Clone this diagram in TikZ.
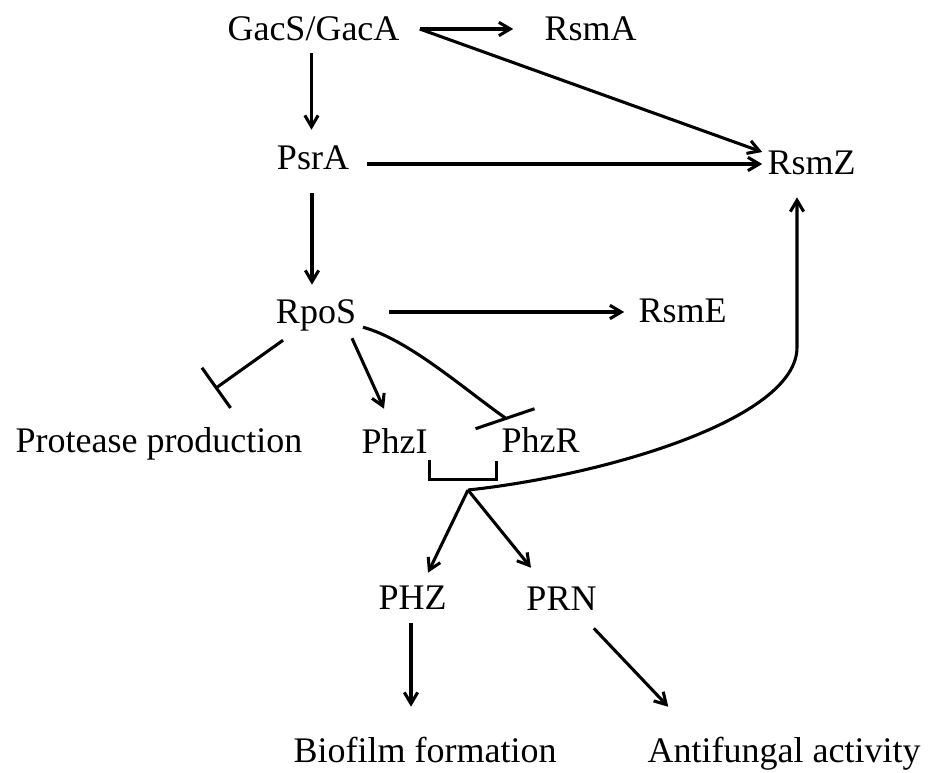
\documentclass[tikz,border=0pt]{standalone}
\usepackage{fontspec}
\setmainfont{Liberation Serif}
\usetikzlibrary{arrows.meta,calc}

\begin{document}
\begin{tikzpicture}[x=0.75pt,y=0.75pt,>={Straight Barb[length=8.5pt,width=10pt]},
font=\fontsize{27}{30}\selectfont,
gene/.style={inner sep=0pt,text height=18pt,text depth=0pt},
arr/.style={->,line width=2.3pt},
inh/.style={-{Bar[width=#1]},line width=2.3pt}]
\useasboundingbox (0,0) rectangle (930,-773);
\node[gene] (gac) at (313.5,-29) {GacS/GacA};
\node[gene] (rsmA) at (590.5,-29) {RsmA};
\node[gene] (psr) at (313,-158) {PsrA};
\node[gene] (rsmZ) at (811.5,-163) {RsmZ};
\node[gene] (rpo) at (316,-311) {RpoS};
\node[gene] (rsmE) at (682.5,-310) {RsmE};
\node[gene] (prot) at (159,-440) {Protease production};
\node[gene] (phzI) at (394.5,-441) {PhzI};
\node[gene] (phzR) at (540.5,-440) {PhzR};
\node[gene] (phz) at (412.5,-597) {PHZ};
\node[gene] (prn) at (561.5,-598) {PRN};
\node[gene] (bio) at (425,-750) {Biofilm formation};
\node[gene] (anti) at (784,-750) {Antifungal activity};
\coordinate (hub) at (468,-490);

% GacS/GacA
\draw[arr] ($(gac.east)+(20,0)$) -- ($(rsmA.west)+(-31,0)$);
\draw[arr] ($(gac.east)+(20,0)$) -- ($(rsmZ.west)+(-5,11)$);
\draw[arr] ($(gac.south)+(-2,-12)$) -- ($(gac.south |- psr.north)+(-2,16)$);
% PsrA
\draw[arr] ($(psr.east)+(18,-6)$) -- ($(rsmZ.west)+(-5,-1)$);
\draw[arr] ($(psr.south)+(-1,-23)$) -- ($(psr.south |- rpo.north)+(-1,14)$);
% RpoS
\draw[arr] ($(rpo.east)+(33,-1)$) -- ($(rsmE.west)+(-14,-2)$);
\draw[inh=37pt] ($(rpo.south)+(-33,-17)$) -- ($(prot.north)+(56,39)$);
\draw[arr] ($(rpo.south)+(36,-15)$) -- ($(phzI.north)+(-10.5,20)$);
\draw[line width=2.3pt] ($(rpo.south)+(47,-4)$) .. controls +(45,-12) and +(-40,28) .. ($(phzR.north)+(-35.5,10)$)
  ($(phzR.north)+(-65,-1)$) -- ($(phzR.north)+(-6,19)$);
% PhzI/PhzR
\draw[line width=2.3pt] ($(phzI.south east)+(2,-7)$) |- ($(phzR.south west)+(-5,-27)$) -- ($(phzR.south west)+(-5,-9)$);
\draw[arr] (hub) .. controls +(132,14) and +(0,-73) .. ($(rsmZ.south)+(-14.5,-172)$) -- ($(rsmZ.south)+(-14.5,-22)$);
\draw[arr] (hub) -- ($(phz.north)+(15.5,12)$);
\draw[arr] (hub) -- ($(prn.north)+(-30.5,18)$);
% products
\draw[arr] ($(phz.south)+(-1.5,-14)$) -- ($(phz.south |- bio.north)+(-1.5,31)$);
\draw[arr] ($(prn.south east)+(-3,-18)$) -- ($(anti.north west)+(21,31)$);
\end{tikzpicture}
\end{document}
